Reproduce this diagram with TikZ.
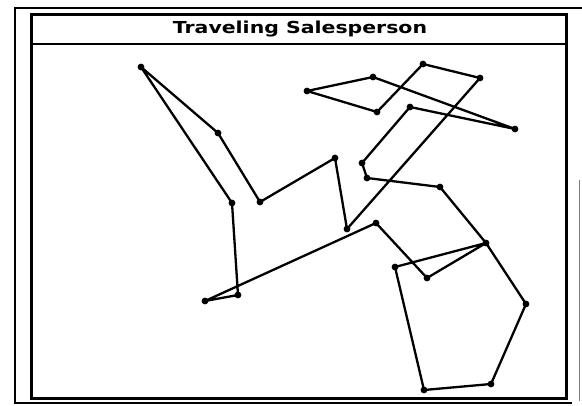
\documentclass[tikz,border=0pt]{standalone}
\usepackage{fontspec}
\newfontfamily\titlefont{DejaVu Sans}
\usepackage{tikz}
\usetikzlibrary{calc}

\tikzset{
  tour/.style={line width=2.3pt, line join=round},
  city/.style={fill=black},
  winframe/.style={line width=3pt},
}

\begin{document}
\begin{tikzpicture}[x=1pt, y=-1pt]
\useasboundingbox (0,0) rectangle (582,406);
% window outline
\draw[line width=2.4pt] (582,8) -| (15,403) -- (572,403);
\draw[gray, line width=1pt] (579,180) -- (579,401);
\draw[winframe] (31,15) rectangle (566,399);
\draw[line width=2.2pt] (31,44) -- (566,44);
\node[anchor=base] (title) at (300,34)
  {\scalebox{1.24}[1]{\titlefont\bfseries\fontsize{16.5}{16.5}\selectfont Traveling Salesperson}};
% cities
\coordinate (c1) at (141,67);  \coordinate (c2) at (218,133);
\coordinate (c3) at (260,202); \coordinate (c4) at (335,158);
\coordinate (c5) at (347,229); \coordinate (c6) at (480,78);
\coordinate (c7) at (423,64);  \coordinate (c8) at (377,112);
\coordinate (c9) at (307,91);  \coordinate (c10) at (373,77);
\coordinate (c11) at (515,129); \coordinate (c12) at (410,107);
\coordinate (c13) at (362,163); \coordinate (c14) at (367,178);
\coordinate (c15) at (440,187); \coordinate (c16) at (486,243);
\coordinate (c17) at (526,304); \coordinate (c18) at (491,384);
\coordinate (c19) at (424,390); \coordinate (c20) at (395,267);
\coordinate (c21) at (427,278); \coordinate (c22) at (376,223);
\coordinate (c23) at (205,301); \coordinate (c24) at (238,295);
\coordinate (c25) at (232,203);
% the tour
\draw[tour] (c1) -- (c2) -- (c3) -- (c4) -- (c5) -- (c6) -- (c7) -- (c8)
  -- (c9) -- (c10) -- (c11) -- (c12) -- (c13) -- (c14) -- (c15) -- (c16)
  -- (c17) -- (c18) -- (c19) -- (c20) -- (c16) -- (c21) -- (c22) -- (c23)
  -- (c24) -- (c25) -- cycle;
\foreach \p in {1,...,25}
  {\fill[city] (c\p) circle (3.4pt);}
\end{tikzpicture}
\end{document}
